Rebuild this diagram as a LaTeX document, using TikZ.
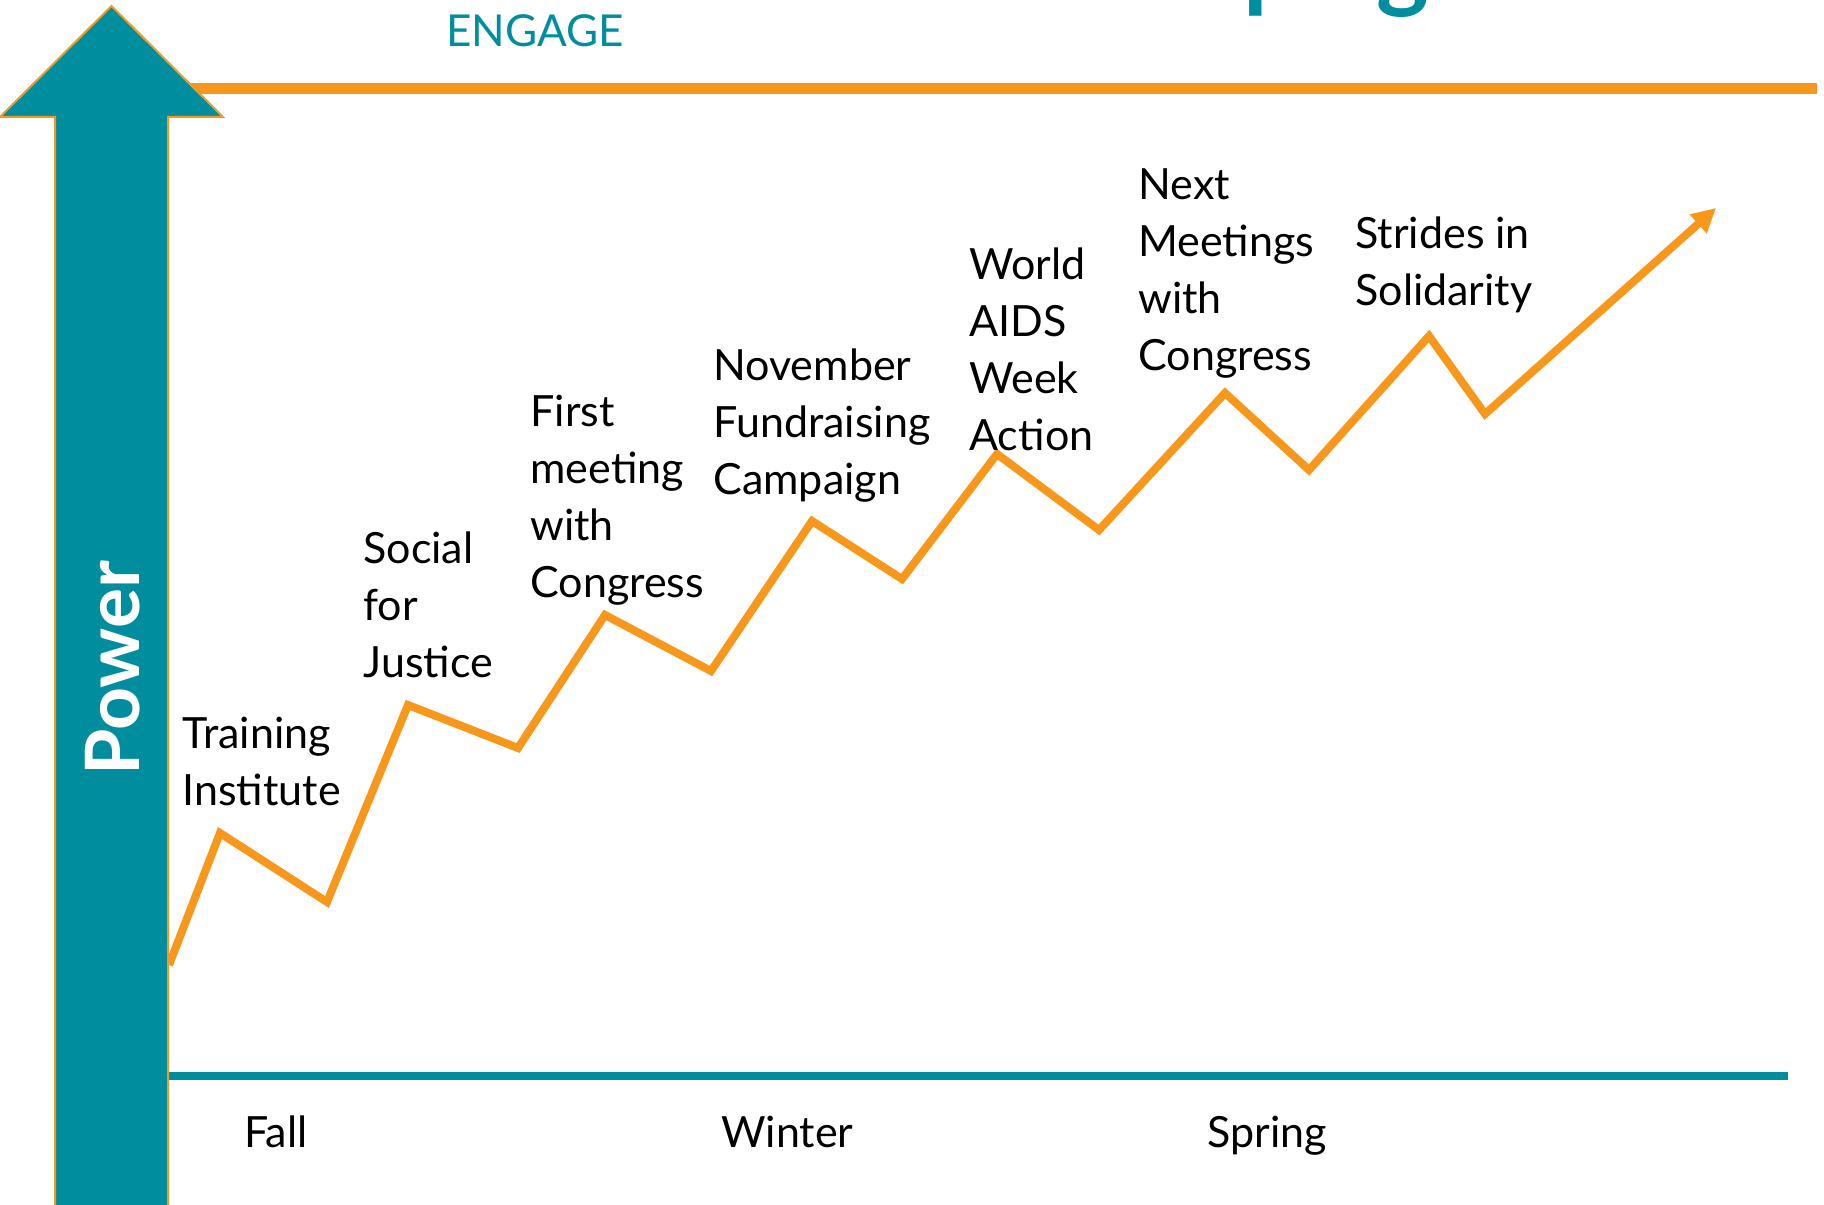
\documentclass[tikz,border=0pt]{standalone}
\usepackage{fontspec}
\setmainfont{Lato}
\usetikzlibrary{arrows.meta}
\definecolor{myteal}{HTML}{008E9E}
\definecolor{myorange}{HTML}{F7981D}
\tikzset{
  lbl/.style={anchor=north west, inner sep=0pt, align=left, font=\fontsize{21.5}{28.5}\selectfont},
  season/.style={anchor=base west, inner sep=0pt, font=\fontsize{21.5}{28.5}\selectfont},
  zig/.style={draw=myorange, line width=4pt, line join=miter},
}
\begin{document}
\begin{tikzpicture}[x=0.5pt,y=-0.5pt]
\useasboundingbox (0,0) rectangle (1824,1204);
% title fragment (cut off at the top, as in the reference)
\node[anchor=base west, inner sep=0pt, text=myteal, font=\fontsize{50}{60}\selectfont\bfseries] (title) at (1042,0) {Campaign};
% ENGAGE
\node[anchor=base west, inner sep=0pt, text=myteal, font=\fontsize{22}{26}\selectfont] (engage) at (446,47) {ENGAGE};
% top orange line
\coordinate (tl) at (190,89);
\coordinate (tr) at (1817,89);
\draw[myorange, line width=5.5pt] (tl) -- (tr);
% bottom teal line
\coordinate (bl) at (169,1076);
\coordinate (br) at (1788,1076);
\draw[myteal, line width=4pt] (bl) -- (br);
% zigzag
\coordinate (p0) at (169,965);
\coordinate (p1) at (220,833);
\coordinate (p2) at (327,902);
\coordinate (p3) at (408,705);
\coordinate (p4) at (518,748);
\coordinate (p5) at (605,615);
\coordinate (p6) at (711,671);
\coordinate (p7) at (812,521);
\coordinate (p8) at (902,579);
\coordinate (p9) at (997,454);
\coordinate (p10) at (1099,530);
\coordinate (p11) at (1225,393);
\coordinate (p12) at (1309,470);
\coordinate (p13) at (1429,336);
\coordinate (p14) at (1485,414);
\coordinate (p15) at (1716,208);
\draw[zig, -{Triangle[length=12pt,width=12pt]}] (p0) -- (p1) -- (p2) -- (p3) -- (p4) -- (p5) -- (p6) -- (p7) -- (p8) -- (p9) -- (p10) -- (p11) -- (p12) -- (p13) -- (p14) -- (p15);
% power arrow
\draw[fill=myteal, draw=myorange, line width=1pt] (55,1215) -- (55,117) -- (0,117) -- (111.5,6) -- (223,117) -- (168,117) -- (168,1215) -- cycle;
\node[rotate=90, anchor=base west, inner sep=0pt, text=white, font=\fontsize{37.5}{42}\selectfont\bfseries] (power) at (139,776) {Power};
% labels
\node[lbl] (l1) at (182,708) {\strut Training\\Institute};
\node[lbl] (l2) at (363,523) {\strut Social\\for\\Justice};
\node[lbl] (l3) at (530,386) {\strut First\\meeting\\with\\Congress};
\node[lbl] (l4) at (713,340) {\strut November\\Fundraising\\Campaign};
\node[lbl] (l5) at (969,239) {\strut World\\AIDS\\Week\\Action};
\node[lbl] (l6) at (1138,159) {\strut Next\\Meetings\\with\\Congress};
\node[lbl] (l7) at (1355,208) {\strut Strides in\\Solidarity};
% seasons
\node[season] (fall) at (244,1147) {Fall};
\node[season] (winter) at (721,1147) {Winter};
\node[season] (spring) at (1207,1147) {Spring};
\end{tikzpicture}
\end{document}
